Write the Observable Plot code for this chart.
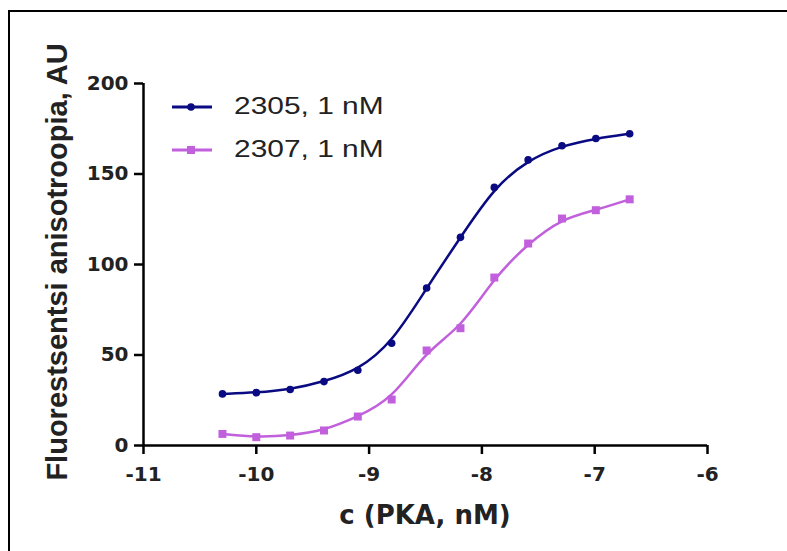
<!DOCTYPE html>
<html>
<head>
<meta charset="utf-8">
<script src="https://cdn.jsdelivr.net/npm/d3@7"></script>
<script src="https://cdn.jsdelivr.net/npm/@observablehq/plot@0.6"></script>
<style>
  html, body { margin: 0; padding: 0; background: #fff; }
  #wrap { position: relative; width: 787px; height: 551px; overflow: hidden; background: #fff; font-family: "Liberation Sans", Arial, sans-serif; }
  #frame { position: absolute; left: 8px; top: 10px; width: 900px; height: 700px; border-left: 2px solid #000; border-top: 2px solid #000; }
  #chart { position: absolute; left: 0; top: 0; }
  #legend { position: absolute; left: 170px; top: 85px; font-size: 23px; color: #222; }
  .row { display: flex; align-items: center; height: 43px; }
  .row svg { margin-right: 20px; }
  .row span { display: inline-block; transform: scaleX(1.3); transform-origin: left center; }
  #ytitle { position: absolute; left: 57px; top: 262px; transform: translate(-50%, -50%) rotate(-90deg); white-space: nowrap; font-weight: bold; font-size: 29px; line-height: 1; color: #222; }
  #xtitle { position: absolute; left: 425px; top: 515px; transform: translate(-50%, -50%); white-space: nowrap; font-family: "DejaVu Sans", sans-serif; font-weight: bold; font-size: 26px; line-height: 1; color: #222; }
  #chart text { font-family: "DejaVu Sans", sans-serif; }
  g[aria-label="x-axis tick label"] text, g[aria-label="y-axis tick label"] text { font-weight: bold; font-size: 20px; fill: #222; }
</style>
</head>
<body>
<div id="wrap">
  <div id="frame"></div>
  <div id="chart"></div>
  <div id="legend"></div>
  <div id="ytitle"></div>
  <div id="xtitle"></div>
</div>
<script>
// log10 concentration (x) values
const logC = [-10.3, -10.0, -9.7, -9.4, -9.1, -8.8, -8.49, -8.19, -7.89, -7.59, -7.29, -6.99, -6.69];
// series values
const s2305 = [28.5, 29.2, 30.9, 35.3, 41.6, 56.5, 87.0, 115.0, 142.6, 157.8, 165.6, 169.6, 172.2];
const s2307 = [6.4, 4.6, 5.5, 8.3, 16.0, 25.4, 52.5, 64.8, 92.8, 111.6, 125.4, 130.0, 136.0];
const seriesNames = ["2305, 1 nM", "2307, 1 nM"];
const colors = ["#0a0a82", "#c15fdc"];
const xTicks = [-11, -10, -9, -8, -7, -6];
const yTicks = [0, 50, 100, 150, 200];
const xTitle = "c (PKA, nM)";
const yTitle = "Fluorestsentsi anisotroopia, AU";

const d2305 = logC.map((x, i) => ({x, y: s2305[i]}));
const d2307 = logC.map((x, i) => ({x, y: s2307[i]}));

const chart = Plot.plot({
  width: 787,
  height: 551,
  marginLeft: 143,
  marginRight: 80,
  marginTop: 83,
  marginBottom: 106,
  x: {domain: [-11, -6]},
  y: {domain: [0, 200]},
  marks: [
    Plot.axisX({ticks: xTicks, tickFormat: d => String(d), tickSize: 9, tickPadding: 12, strokeWidth: 2.5, label: null}),
    Plot.axisY({ticks: yTicks, tickFormat: d => String(d), tickSize: 9, tickPadding: 6, strokeWidth: 2.5, label: null}),
    Plot.ruleX([-11], {strokeWidth: 2.5, stroke: "#000"}),
    Plot.ruleY([0], {strokeWidth: 2.5, stroke: "#000"}),
    Plot.line(d2305, {x: "x", y: "y", stroke: colors[0], strokeWidth: 2.5, curve: "basis"}),
    Plot.line(d2307, {x: "x", y: "y", stroke: colors[1], strokeWidth: 2.5, curve: "basis"}),
    Plot.dot(d2305, {x: "x", y: "y", fill: colors[0], r: 3.8, symbol: "circle"}),
    Plot.dot(d2307, {x: "x", y: "y", fill: colors[1], r: 4.5, symbol: "square"})
  ]
});
document.getElementById("chart").appendChild(chart);
document.getElementById("xtitle").textContent = xTitle;
document.getElementById("ytitle").textContent = yTitle;

const legend = document.getElementById("legend");
seriesNames.forEach((name, i) => {
  const row = document.createElement("div");
  row.className = "row";
  const marker = i === 0
    ? `<circle cx="21" cy="8" r="3.8" fill="${colors[i]}"/>`
    : `<rect x="17" y="4" width="8" height="8" fill="${colors[i]}"/>`;
  row.innerHTML = `<svg width="44" height="16"><line x1="2" x2="42" y1="8" y2="8" stroke="${colors[i]}" stroke-width="3"/>${marker}</svg><span>${name}</span>`;
  legend.appendChild(row);
});
</script>
</body>
</html>
